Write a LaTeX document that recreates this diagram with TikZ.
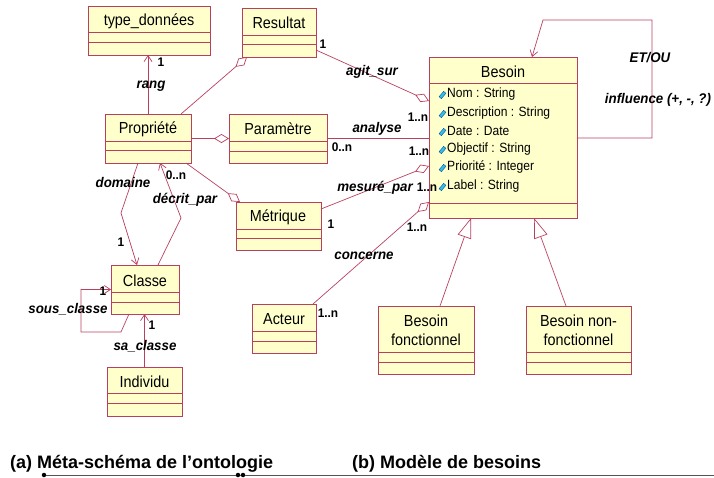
\documentclass[tikz,border=0pt]{standalone}
\usepackage{fontspec}
\setmainfont{Liberation Sans}
\newfontfamily\condfont{Liberation Sans}[FakeStretch=0.9]
\newfontfamily\lblfont{Liberation Sans}[FakeStretch=0.95]
\usetikzlibrary{arrows.meta,calc}
\definecolor{boxfill}{HTML}{FFFFCC}
\definecolor{boxline}{HTML}{B8405E}
\definecolor{iconfill}{HTML}{30C0E8}
\definecolor{iconline}{HTML}{1050A0}
\definecolor{rulegray}{HTML}{555555}
\tikzset{
 clsbox/.style={draw=boxline, fill=boxfill, line width=0.7pt, inner sep=0pt, outer sep=0pt, rectangle},
 clsline/.style={draw=boxline, line width=0.7pt},
 clstitle/.style={inner sep=0pt, font=\condfont\fontsize{16}{19}\selectfont, align=center},
 conn/.style={draw=boxline, line width=0.7pt},
 agg/.style={conn, -{Diamond[open, length=15pt, width=9pt]}},
 nav/.style={conn, -{Straight Barb[length=6pt, width=8pt]}},
 gen/.style={conn, -{Triangle[open, length=20pt, width=14pt]}},
 rolelbl/.style={inner sep=0pt, font=\lblfont\fontsize{14}{16}\selectfont\bfseries\itshape},
 multlbl/.style={inner sep=0pt, font=\lblfont\fontsize{12.5}{14}\selectfont\bfseries},
 attrtxt/.style={inner sep=0pt, anchor=west, font=\condfont\fontsize{13.4}{15}\selectfont},
 attricon/.style={draw=iconline, fill=iconfill, line width=0.4pt, rectangle, minimum width=3pt, minimum height=7pt, inner sep=0pt, rotate=-40},
 captiontxt/.style={inner sep=0pt, anchor=base west, font=\fontsize{18}{20}\selectfont\bfseries},
 dotn/.style={circle, fill=black, inner sep=0pt, minimum size=4.5pt},
}
\newcommand{\umlclass}[7]{%
 \node[clsbox, minimum width={#4pt-#2pt}, minimum height={#5pt-#3pt}] (#1) at ({(#2+#4)/2},{(#3+#5)/2}) {};
 \draw[clsline] (#2,#6) -- (#4,#6);
 \draw[clsline] (#2,#7) -- (#4,#7);
}
\begin{document}
\begin{tikzpicture}[x=1pt,y=-1pt]
\useasboundingbox (0,0) rectangle (714,477);
% classes
\umlclass{typ}{88}{6}{210}{55}{32}{42.5}
\umlclass{res}{242}{8}{316}{57}{35}{44}
\umlclass{prop}{105}{114}{191}{163}{141}{150}
\umlclass{param}{229}{114}{327}{163}{141}{151}
\umlclass{metr}{236}{202}{321}{250}{229}{238}
\umlclass{bes}{429}{57}{577}{218}{83}{203}
\umlclass{classe}{111}{265}{179}{314}{292}{302}
\umlclass{indiv}{107}{367}{182}{416}{393}{403}
\umlclass{acteur}{252}{304}{316}{353}{331}{341}
\umlclass{bf}{378}{306}{474}{374}{352}{362}
\umlclass{bnf}{526}{306}{631}{374}{352}{362}
% titles
\node[clstitle] (typ-t) at (149,21) {type\_données};
\node[clstitle] (res-t) at (279,23) {Resultat};
\node[clstitle] (prop-t) at (148,129) {Propriété};
\node[clstitle] (param-t) at (278,129) {Paramètre};
\node[clstitle] (metr-t) at (278,217) {Métrique};
\node[clstitle] (bes-t) at (503,72) {Besoin};
\node[clstitle] (classe-t) at (145,281) {Classe};
\node[clstitle] (indiv-t) at (144.5,382) {Individu};
\node[clstitle] (acteur-t) at (284,319) {Acteur};
\node[clstitle] (bf-t) at (426,330) {Besoin\\fonctionnel};
\node[clstitle] (bnf-t) at (578.5,330) {Besoin non-\\fonctionnel};
% attributes
\foreach \yy/\atext in {94/Nom : String, 113/Description : String, 131/Date : Date, 149/Objectif : String, 167/Priorité : Integer, 186/Label : String}{
 \node[attricon] (icon\yy) at (442.5,\yy+1) {};
 \node[attrtxt] (attr\yy) at (447,\yy) {\atext};
}
% connectors
\draw[nav] (prop.north) -- (prop.north |- typ.south);
\draw[agg] ($(prop.north east)+(-10,0)$) -- ($(res.south west)+(5,0)$);
\draw[agg] (prop.east) -- (param.west);
\draw[conn] (param.east) -- (param.east -| bes.west);
\draw[agg] ($(res.south east)+(0,-7)$) -- ($(bes.north west)+(0,44)$);
\draw[agg] ($(metr.north east)+(0,7)$) -- ($(bes.north west)+(0,109)$);
\draw[agg] ($(acteur.north east)+(-3,0)$) -- ($(bes.south west)+(0,-16)$);
\draw[agg] ($(prop.south east)+(-5,0)$) -- ($(metr.north west)+(4,0)$);
\coordinate (domK) at (121,213);
\draw[nav] ($(prop.south west)+(33,0)$) -- (domK) -- ($(classe.north west)+(26,0)$);
\coordinate (decK) at (181,218);
\draw[nav] ($(classe.north west)+(47,0)$) -- (decK) -- ($(prop.south west)+(55,0)$);
\coordinate (scA) at (121,332);
\coordinate (scB) at (81,332);
\coordinate (scC) at (81,289.5);
\draw[nav] ($(classe.south west)+(18,0)$) -- (scA) -- (scB) -- (scC) -- (classe.west);
\draw[nav] (indiv.north) -- (indiv.north |- classe.south);
\coordinate (loopA) at (652,20);
\coordinate (loopB) at (543,20);
\draw[nav] ($(bes.north east)+(0,81)$) -| (loopA) -- (loopB) -- ($(bes.north west)+(103,0)$);
\draw[gen] ($(bf.north west)+(62,0)$) -- ($(bes.south west)+(42,0)$);
\draw[gen] ($(bnf.north west)+(40,0)$) -- ($(bes.south west)+(105,0)$);
% labels
\node[multlbl] (m-rang) at (161,62) {1};
\node[rolelbl] (l-rang) at (151,86) {rang};
\node[multlbl] (m-res) at (323,44) {1};
\node[rolelbl] (l-agit) at (372,72) {agit\_sur};
\node[multlbl] (m-agit) at (418,117) {1..n};
\node[rolelbl] (l-analyse) at (377,129) {analyse};
\node[multlbl] (m-ana0) at (342,147) {0..n};
\node[multlbl] (m-ana1) at (419,151) {1..n};
\node[rolelbl] (l-mesure) at (375,188) {mesuré\_par};
\node[multlbl] (m-mes1) at (427,187) {1..n};
\node[multlbl] (m-mes0) at (331,224) {1};
\node[multlbl] (m-conc1) at (417,227) {1..n};
\node[rolelbl] (l-conc) at (364,256) {concerne};
\node[multlbl] (m-conc2) at (328,313) {1..n};
\node[rolelbl] (l-dom) at (123,182) {domaine};
\node[multlbl] (m-dom) at (121,242) {1};
\node[multlbl] (m-dec) at (176,175) {0..n};
\node[rolelbl] (l-dec) at (185,200) {décrit\_par};
\node[multlbl] (m-sc) at (103,291) {1};
\node[rolelbl] (l-sc) at (68,309) {sous\_classe};
\node[multlbl] (m-sa) at (152,325) {1};
\node[rolelbl] (l-sa) at (145,346) {sa\_classe};
\node[rolelbl] (l-etou) at (650,58) {ET/OU};
\node[rolelbl] (l-infl) at (658,100) {influence (+, -, ?)};
% captions
\node[captiontxt] (capa) at (10,468) {(a) Méta-schéma de l’ontologie};
\node[captiontxt] (capb) at (352,468) {(b) Modèle de besoins};
\node[dotn] (d1) at (44,475) {};
\node[dotn] (d2) at (238,475) {};
\node[dotn] (d3) at (243,475) {};
\coordinate (rEnd) at (714,475);
\draw[rulegray, line width=1pt] (d1) -- (d2) -- (d3) -- (rEnd);
\end{tikzpicture}
\end{document}
